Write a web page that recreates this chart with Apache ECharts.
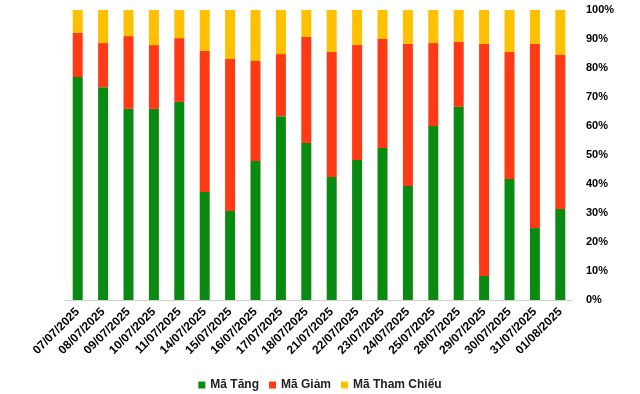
<!DOCTYPE html>
<html><head><meta charset="utf-8">
<script src="https://cdn.jsdelivr.net/npm/echarts@6/dist/echarts.min.js"></script>
<style>html,body{margin:0;padding:0;background:#fff}#c{width:640px;height:394px}</style>
</head><body><div id="c"></div>
<script>
var categories = ['07/07/2025','08/07/2025','09/07/2025','10/07/2025','11/07/2025','14/07/2025','15/07/2025','16/07/2025','17/07/2025','18/07/2025','21/07/2025','22/07/2025','23/07/2025','24/07/2025','25/07/2025','28/07/2025','29/07/2025','30/07/2025','31/07/2025','01/08/2025'];
var maTang = [76.9,73.4,65.9,65.9,68.3,37.2,30.7,47.9,63.4,54.1,42.4,48.3,52.4,39.3,60.0,66.6,8.3,41.7,24.8,31.4];
var maGiam = [15.2,15.2,25.1,22.0,22.0,48.7,52.4,34.5,21.4,36.6,43.1,39.6,37.6,49.0,28.6,22.4,80.0,43.8,63.5,53.1];
var maThamChieu = maTang.map(function(v,i){ return Math.round((100 - v - maGiam[i])*10)/10; });
var chart = echarts.init(document.getElementById('c'));
var font = 'Liberation Sans, Arial, sans-serif';
chart.setOption({
  animation:false,
  grid:{left:65,right:67,top:10,bottom:94},
  legend:{bottom:-2,left:'center',itemWidth:7,itemHeight:7,itemGap:10,icon:'rect',
    textStyle:{fontFamily:font,fontSize:12,fontWeight:'bold',color:'#222'},
    data:['Mã Tăng','Mã Giảm','Mã Tham Chiếu']},
  xAxis:{type:'category',data:categories,
    axisLine:{lineStyle:{color:'#d0d0d0'}},axisTick:{show:false},
    axisLabel:{interval:0,rotate:45,margin:10,fontFamily:font,fontSize:12,fontWeight:'bold',color:'#000'}},
  yAxis:{type:'value',position:'right',min:0,max:100,interval:10,
    splitLine:{show:false},axisLine:{show:false},axisTick:{show:false},
    axisLabel:{formatter:'{value}%',margin:13,fontFamily:font,fontSize:11,fontWeight:'bold',color:'#000'}},
  series:[
    {name:'Mã Tăng',type:'bar',stack:'a',data:maTang,barWidth:10,itemStyle:{color:'#0B8A12'}},
    {name:'Mã Giảm',type:'bar',stack:'a',data:maGiam,barWidth:10,itemStyle:{color:'#FF3A14'}},
    {name:'Mã Tham Chiếu',type:'bar',stack:'a',data:maThamChieu,barWidth:10,itemStyle:{color:'#FFC000'}}
  ]
});
</script></body></html>
